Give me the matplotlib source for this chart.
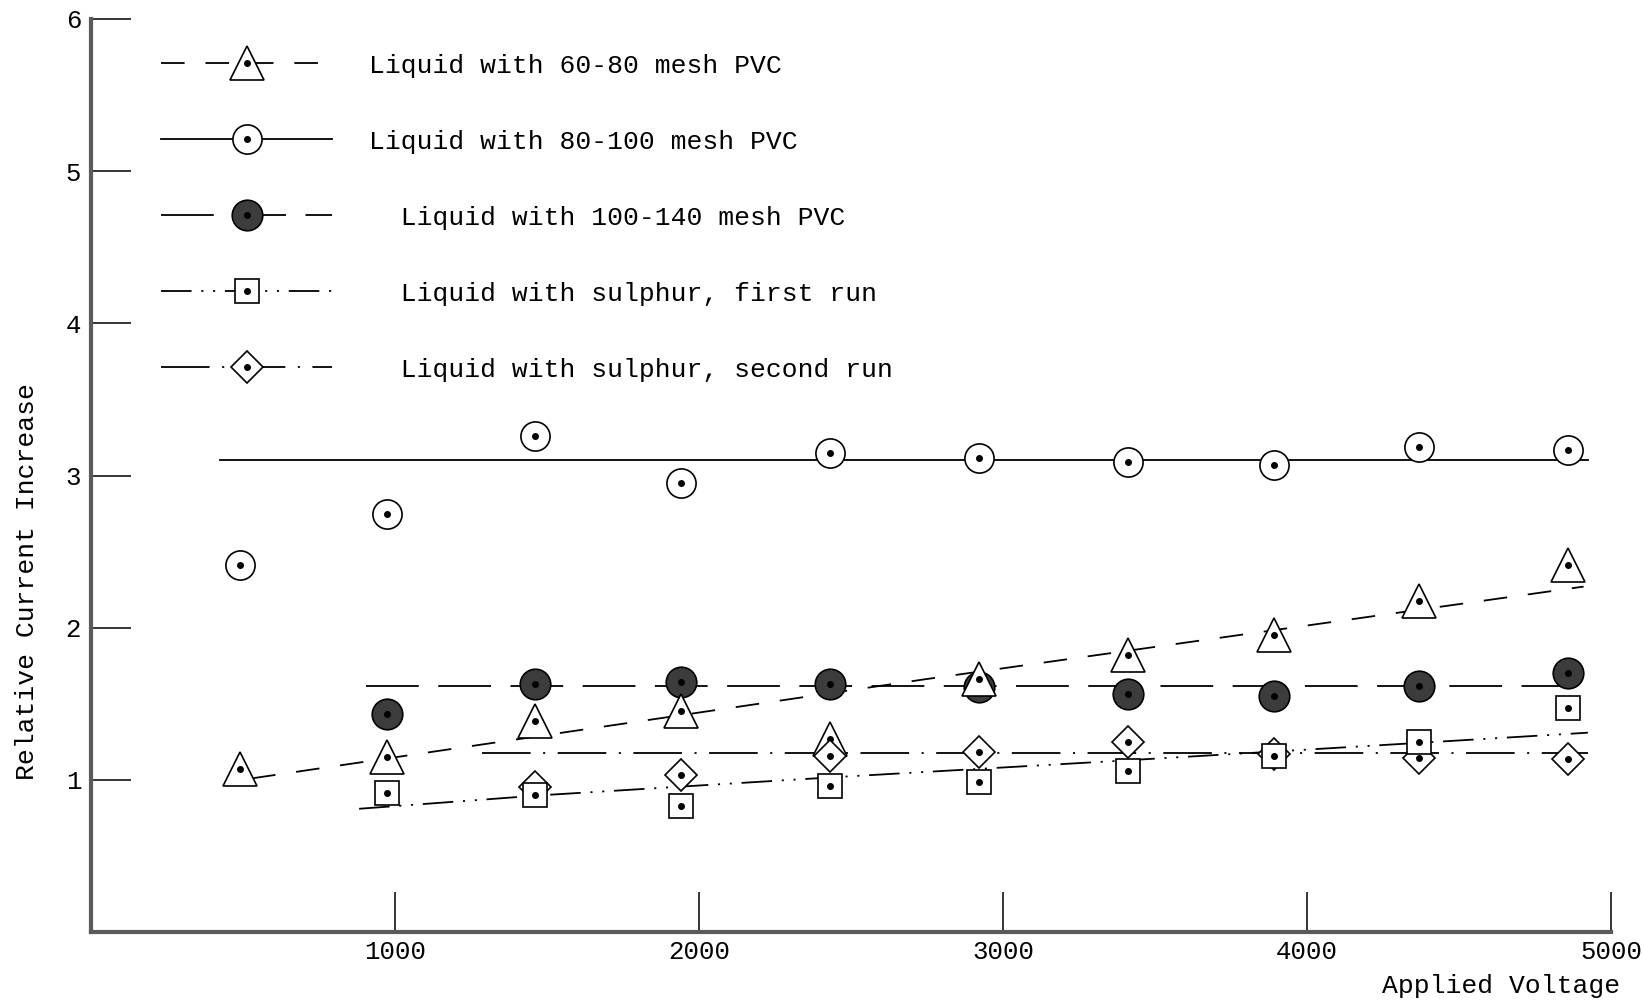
import matplotlib
matplotlib.use('Agg')
import matplotlib.pyplot as plt
from matplotlib.lines import Line2D
from matplotlib.legend_handler import HandlerTuple

plt.rcParams['font.family'] = ['Liberation Mono', 'DejaVu Sans Mono']
plt.rcParams['lines.scale_dashes'] = False

# applied voltage at each reading
volts = [490, 975, 1460, 1940, 2430, 2920, 3410, 3890, 4370, 4860]

# relative current increase
pvc_60_80 = [1.07, 1.15, 1.39, 1.45, 1.27, 1.66, 1.82, 1.955, 2.175, 2.41]
pvc_80_100 = [2.415, 2.75, 3.26, 2.95, 3.15, 3.115, 3.09, 3.07, 3.19, 3.165]
pvc_100_140 = [1.436, 1.633, 1.644, 1.633, 1.61, 1.567, 1.55, 1.615, 1.70]      # from 975 V
sulphur_1 = [0.915, 0.90, 0.83, 0.96, 0.985, 1.056, 1.16, 1.247, 1.47]           # from 975 V
sulphur_2 = [0.955, 1.03, 1.16, 1.18, 1.25, 1.17, 1.145, 1.14]                   # from 1460 V

# hand drawn trend lines
fit_60_80_x = [530, 2740, 4910]
fit_60_80_y = [1.01, 1.66, 2.27]
fit_80_100_x = [425, 4925]
fit_80_100_y = [3.105, 3.105]
fit_100_140_x = [905, 4925]
fit_100_140_y = [1.615, 1.615]
fit_s1_x = [882, 1491, 2025, 2466, 3319, 3968, 4924]
fit_s1_y = [0.81, 0.90, 0.966, 1.02, 1.118, 1.195, 1.31]
fit_s2_x = [1285, 4925]
fit_s2_y = [1.176, 1.176]

labels = ['Liquid with 60-80 mesh PVC',
          'Liquid with 80-100 mesh PVC',
          '  Liquid with 100-140 mesh PVC',
          '  Liquid with sulphur, first run',
          '  Liquid with sulphur, second run']

ls_tri = (0, (17, 15))
ls_circ = '-'
ls_fill = (0, (38, 14))
ls_sq = (0, (22, 7, 1.5, 7, 1.5, 7))
ls_dia = (0, (35, 9, 1.5, 9))
lw = 1.3
mew = 1.2
fill_col = '#3c3c3c'

fig = plt.figure(figsize=(16.42, 10.05), dpi=100)
ax = fig.add_axes([0.0554, 0.0726, 0.9257, 0.9085])

ax.plot(fit_60_80_x, fit_60_80_y, color='black', lw=lw, ls=ls_tri, zorder=2)
ax.plot(fit_80_100_x, fit_80_100_y, color='black', lw=lw, ls=ls_circ, zorder=2)
ax.plot(fit_100_140_x, fit_100_140_y, color='black', lw=lw, ls=ls_fill, zorder=2)
ax.plot(fit_s1_x, fit_s1_y, color='black', lw=lw, ls=ls_sq, zorder=2)
ax.plot(fit_s2_x, fit_s2_y, color='black', lw=lw, ls=ls_dia, zorder=2)


def points(x, y, marker, ms, face, z):
    ax.plot(x, y, ls='none', marker=marker, ms=ms, mfc=face, mec='black',
            mew=mew, zorder=z)
    ax.plot(x, y, ls='none', marker='o', ms=4, color='black', zorder=z + 0.5)


points(volts[1:], pvc_100_140, 'o', 22, fill_col, 3)
points(volts, pvc_60_80, '^', 24, 'white', 4)
points(volts, pvc_80_100, 'o', 21, 'white', 5)
points(volts[2:], sulphur_2, 'D', 16.5, 'white', 6)
points(volts[1:], sulphur_1, 's', 17, 'white', 7)

# legend, drawn the way the original does it
def handle(ls, marker, ms, face):
    return (Line2D([], [], color='black', lw=lw, ls=ls, marker=marker, ms=ms,
                   mfc=face, mec='black', mew=mew),
            Line2D([], [], ls='none', marker='o', ms=4, color='black'))


handles = [handle(ls_tri, '^', 24, 'white'),
           handle(ls_circ, 'o', 21, 'white'),
           handle(ls_fill, 'o', 22, fill_col),
           handle(ls_sq, 's', 17, 'white'),
           handle(ls_dia, 'D', 16.5, 'white')]
ax.legend(handles, labels, loc='upper left', bbox_to_anchor=(0.046, 0.962),
          frameon=False, fontsize=19, handlelength=6.5, handletextpad=1.4,
          labelspacing=1.97, borderpad=0, borderaxespad=0,
          handler_map={tuple: HandlerTuple(ndivide=1)})

ax.set_xlim(0, 5000)
ax.set_ylim(0, 6)
ax.set_xticks([1000, 2000, 3000, 4000, 5000])
ax.set_yticks([1, 2, 3, 4, 5, 6])
ax.tick_params(direction='in', length=29, width=1.1, labelsize=18.5)
ax.tick_params(axis='x', pad=6)
ax.tick_params(axis='y', pad=7)
for s in ['top', 'right']:
    ax.spines[s].set_visible(False)
for s in ['left', 'bottom']:
    ax.spines[s].set_color('#5a5a5a')
    ax.spines[s].set_linewidth(3)

ax.set_ylabel('Relative Current Increase', fontsize=19)
ax.yaxis.set_label_coords(-0.034, 0.384)
ax.set_xlabel('Applied Voltage', fontsize=19)
ax.xaxis.set_label_coords(0.928, -0.046)

fig.savefig('out.png', dpi=100)
